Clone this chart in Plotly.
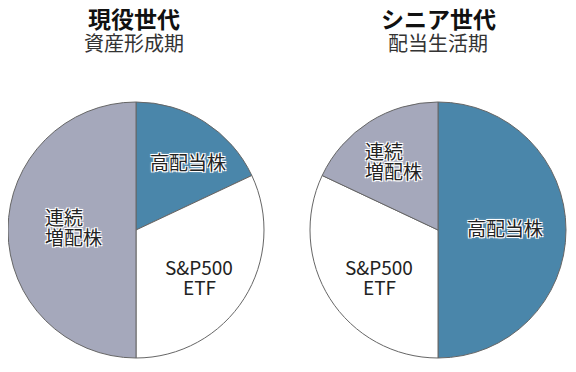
import plotly.graph_objects as go

labels = ["高配当株", "S&P500<br>ETF", "連続<br>増配株"]
colors = ["#4a86aa", "#ffffff", "#a5a8bb"]
left_values = [18, 32, 50]
right_values = [50, 32, 18]
titles = ["現役世代", "シニア世代"]
subtitles = ["資産形成期", "配当生活期"]

font = "Noto Sans CJK JP"
W, H = 560, 356
OFF = 8  # page body margin


def px(x):
    return min(max((x - OFF) / W, 0), 1)


def py(y):
    return min(max(1 - (y - OFF) / H, 0), 1)


fig = go.Figure()
domains = [[px(8), px(264)], [px(310), px(566)]]
ydom = [py(358), py(102)]
for vals, dom in zip([left_values, right_values], domains):
    fig.add_trace(go.Pie(
        labels=labels, values=vals, sort=False, direction="clockwise", rotation=0,
        marker=dict(colors=colors, line=dict(color="#666666", width=1)),
        textinfo="none", hoverinfo="label+percent", showlegend=False,
        domain=dict(x=dom, y=ydom),
    ))

halo = "-1px -1px 0 #fff, 1px -1px 0 #fff, -1px 1px 0 #fff, 1px 1px 0 #fff, 0 0 3px #fff"
# (x, y of first line, anchor)
label_pos = [
    [(188, 161, "center"), (199, 266, "center"), (43, 216, "left")],
    [(505, 227, "center"), (379, 266, "center"), (363, 150, "left")],
]
LINE = 20
for pos in label_pos:
    for lab, (x, y, al) in zip(labels, pos):
        for k, line in enumerate(lab.split("<br>")):
            fig.add_annotation(
                x=px(x), y=py(y + k * LINE), xref="paper", yref="paper", text=line,
                showarrow=False, xanchor=al, yanchor="middle", align=al,
                font=dict(family=font, size=19, color="#222222", shadow=halo),
            )

centers = [134, 438]
for t, s, cx in zip(titles, subtitles, centers):
    fig.add_annotation(x=px(cx), y=py(18), xref="paper", yref="paper", text="<b>" + t + "</b>",
                       showarrow=False, xanchor="center", yanchor="middle",
                       font=dict(family=font, size=23, color="#111111"))
    fig.add_annotation(x=px(cx), y=py(42), xref="paper", yref="paper", text=s,
                       showarrow=False, xanchor="center", yanchor="middle",
                       font=dict(family=font, size=20, color="#333333"))

fig.update_layout(width=W, height=H, margin=dict(l=0, r=0, t=0, b=0),
                  paper_bgcolor="white", plot_bgcolor="white", font=dict(family=font))
fig.write_html("out.html")
